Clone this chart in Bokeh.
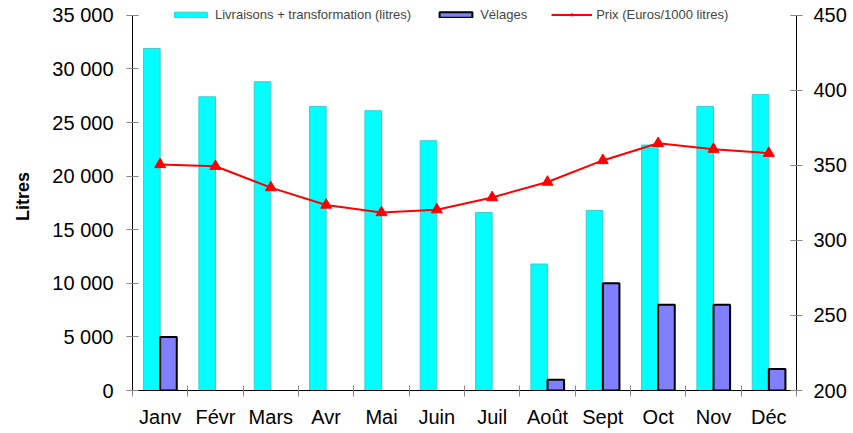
from bokeh.plotting import figure
from bokeh.models import (Range1d, LinearAxis, FixedTicker, CustomJSTickFormatter,
                          Legend, LegendItem, ColumnDataSource, CDSView, BooleanFilter)
from bokeh.embed import file_html
from bokeh.resources import INLINE
import numpy as np

months = ["Janv", "Févr", "Mars", "Avr", "Mai", "Juin", "Juil", "Août", "Sept", "Oct", "Nov", "Déc"]
livraisons = [31900, 27400, 28800, 26500, 26100, 23300, 16600, 11800, 16800, 22900, 26500, 27600]
velages = [5000, 0, 0, 0, 0, 0, 0, 1000, 10000, 8000, 8000, 2000]
prix = [350.6, 349.4, 335.2, 323.6, 318.6, 320.5, 328.6, 338.9, 353.3, 364.7, 360.8, 358.1]
left_ticks = list(range(0, 35001, 5000))
right_ticks = list(range(200, 451, 50))

FONT = "Liberation Sans"
x = np.arange(len(months)) + 0.5
src = ColumnDataSource(dict(x=x, xl=x - 0.15, xv=x + 0.15, liv=livraisons, vel=velages, prix=prix))

# layout: frame from y=TOP to y=BOTTOM px; axes end at y=AX_TOP px
TOP, AX_TOP, BOTTOM = 2, 15, 396
H = 430
ext = (BOTTOM - TOP) / (BOTTOM - AX_TOP)
l0, l1 = left_ticks[0], left_ticks[-1]
r0, r1 = right_ticks[0], right_ticks[-1]

p = figure(width=850, height=H, output_backend="svg", toolbar_location=None,
           x_range=Range1d(0, 12), y_range=Range1d(l0, l0 + (l1 - l0) * ext),
           min_border_left=132, min_border_right=54, min_border_top=TOP,
           min_border_bottom=H - BOTTOM)
p.extra_y_ranges = {"prix": Range1d(r0, r0 + (r1 - r0) * ext)}
p.grid.visible = False
p.outline_line_color = None
p.background_fill_color = "white"

r_liv = p.vbar(x="xl", top="liv", width=0.3, source=src, fill_color="#00FFFF",
               line_color="#40CCCC", line_width=1)
view = CDSView(filter=BooleanFilter([v > 0 for v in velages]))
r_vel = p.vbar(x="xv", top="vel", width=0.3, source=src, view=view, fill_color="#8080FF",
               line_color="black", line_width=2)
r_line = p.line(x="x", y="prix", source=src, y_range_name="prix", line_color="#FF0000", line_width=2)
r_pts = p.scatter(x="x", y="prix", source=src, y_range_name="prix", marker="triangle",
                  size=11, fill_color="#FF0000", line_color="#FF0000")

# x axis
xa = p.xaxis[0]
xa.ticker = FixedTicker(ticks=list(x), minor_ticks=list(range(13)))
xa.formatter = CustomJSTickFormatter(args=dict(months=months), code="return months[Math.round(tick - 0.5)]")
xa.major_tick_in = 0
xa.major_tick_out = 0
xa.minor_tick_in = 5
xa.minor_tick_out = 6
xa.minor_tick_line_color = "#888888"
xa.axis_line_color = "black"
xa.major_label_text_font = FONT
xa.major_label_text_font_size = "20px"
xa.major_label_text_color = "black"
xa.major_label_standoff = 9

# left axis
ya = p.yaxis[0]
ya.ticker = FixedTicker(ticks=left_ticks)
ya.bounds = (l0, l1)
ya.formatter = CustomJSTickFormatter(code="return tick.toFixed(0).replace(/\\B(?=(\\d{3})+(?!\\d))/g, ' ')")
ya.minor_tick_line_color = None
ya.major_tick_in = 6
ya.major_tick_out = 6
ya.major_tick_line_color = "#888888"
ya.axis_line_color = "black"
ya.major_label_text_font = FONT
ya.major_label_text_font_size = "20px"
ya.major_label_text_color = "black"
ya.major_label_standoff = 13
ya.axis_label = "Litres"
ya.axis_label_text_font = FONT
ya.axis_label_text_font_size = "18px"
ya.axis_label_text_font_style = "bold"
ya.axis_label_text_color = "black"
ya.axis_label_standoff = 16

# right axis
ra = LinearAxis(y_range_name="prix", ticker=FixedTicker(ticks=right_ticks), bounds=(r0, r1))
ra.minor_tick_line_color = None
ra.major_tick_in = 6
ra.major_tick_out = 6
ra.major_tick_line_color = "#888888"
ra.axis_line_color = "black"
ra.major_label_text_font = FONT
ra.major_label_text_font_size = "20px"
ra.major_label_text_color = "black"
ra.major_label_standoff = 11
p.add_layout(ra, "right")

legend = Legend(items=[
    LegendItem(label="Livraisons + transformation (litres)", renderers=[r_liv]),
    LegendItem(label="Vélages", renderers=[r_vel]),
    LegendItem(label="Prix (Euros/1000 litres)", renderers=[r_line, r_pts]),
], location=(38, (BOTTOM - TOP) - 26), orientation="horizontal", glyph_width=41, glyph_height=7,
    label_text_font=FONT, label_text_font_size="13px", label_standoff=4, spacing=24,
    padding=0, margin=0, background_fill_alpha=0, border_line_color=None,
    label_height=14)
p.add_layout(legend)

open("out.html", "w").write(file_html(p, INLINE))
